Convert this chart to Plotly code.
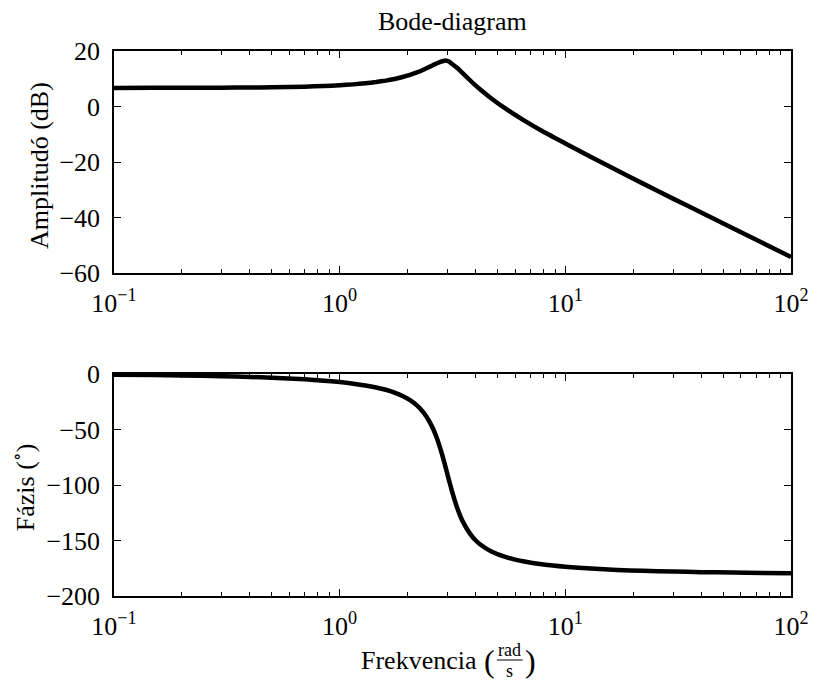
import plotly.graph_objects as go
from plotly.subplots import make_subplots

# Frequency points (rad/s)
omega = [0.1, 0.15, 0.2, 0.3, 0.4, 0.5, 0.7, 0.85, 1.0, 1.15, 1.3, 1.45, 1.6, 1.75, 1.9,
         2.05, 2.2, 2.35, 2.5, 2.6, 2.7, 2.85, 2.95, 3.05, 3.15, 3.3, 3.4, 3.5, 3.8, 4.0,
         4.2, 4.7, 5.5, 6.5, 8, 10, 13, 17, 22, 30, 40, 55, 75, 100]
# Amplitude (dB)
amplitude_db = [6.7, 6.72, 6.73, 6.77, 6.85, 6.92, 7.15, 7.38, 7.64, 7.97, 8.36, 8.81, 9.33,
                9.93, 10.62, 11.4, 12.28, 13.26, 14.29, 14.96, 15.6, 16.3, 16.6, 16.2,
                15.3, 14.04, 13.08, 12.1, 9.28, 7.6, 6.09, 2.89, -1.07, -4.83, -9.13,
                -13.3, -18.2, -23.1, -27.7, -33.2, -38.2, -43.8, -49.2, -54.2]
# Phase (degrees)
phase_deg = [-0.65, -0.98, -1.3, -1.97, -2.64, -3.34, -4.8, -5.98, -7.27, -8.69, -10.28,
             -12.1, -14.22, -16.73, -19.78, -23.55, -28.34, -34.6, -42.84, -49.8, -58.16,
             -73.2, -84.3, -95.6, -106.0, -119.3, -126.4, -132.3, -144.5, -149.8, -153.6,
             -159.9, -165.2, -168.7, -171.6, -173.6, -175.3, -176.5, -177.3, -178.0,
             -178.5, -178.9, -179.2, -179.4]

amp_ticks = [20, 0, -20, -40, -60]
phase_ticks = [0, -50, -100, -150, -200]
x_major = [0.1, 1, 10, 100]
x_labels = ["10<sup>−1</sup>", "10<sup>0</sup>", "10<sup>1</sup>", "10<sup>2</sup>"]
x_minor = [m * d for d in (0.1, 1, 10) for m in range(2, 10)]

W, H = 821, 685
L, R, T, B = 114, 21, 51, 89
PW, PH = W - L - R, H - T - B

def px(x):
    return (x - L) / PW

def py(y):
    return (H - B - y) / PH

FONT = "Liberation Serif, Times New Roman, DejaVu Serif, serif"
FS = 26

fig = make_subplots(rows=2, cols=1, vertical_spacing=0.0)
fig.add_trace(go.Scatter(x=omega, y=amplitude_db, mode="lines",
                         line=dict(color="black", width=4.5, shape="spline", smoothing=0.4)),
              row=1, col=1)
fig.add_trace(go.Scatter(x=omega, y=phase_deg, mode="lines",
                         line=dict(color="black", width=4.5, shape="spline", smoothing=0.5)),
              row=2, col=1)

xcommon = dict(type="log", range=[-1, 2], tickvals=x_major, ticktext=x_labels,
               ticks="inside", ticklen=7, tickwidth=1, tickcolor="black",
               showline=True, linecolor="black", linewidth=1.5, mirror="allticks",
               showgrid=False, zeroline=False, ticklabelstandoff=6,
               tickfont=dict(family=FONT, size=FS, color="black"),
               minor=dict(tickvals=x_minor, ticks="inside", ticklen=4, tickcolor="black",
                          tickwidth=1, showgrid=False))
ycommon = dict(ticks="inside", ticklen=7, tickwidth=1, tickcolor="black",
               showline=True, linecolor="black", linewidth=1.5, mirror="allticks",
               showgrid=False, zeroline=False, ticklabelstandoff=7,
               tickfont=dict(family=FONT, size=FS, color="black"))

fig.update_xaxes(**xcommon)
fig.update_xaxes(domain=[0, 1])
fig.update_yaxes(**ycommon)

fig.update_layout(
    font=dict(family=FONT, size=FS, color="black"),
    xaxis=dict(anchor="y"),
    yaxis=dict(domain=[py(273), 1], range=[-60, 20], tickvals=amp_ticks),
    xaxis2=dict(anchor="y2"),
    yaxis2=dict(domain=[0, py(374)], range=[-200, 0], tickvals=phase_ticks),
    width=W, height=H,
    margin=dict(l=L, r=R, t=T, b=B),
    showlegend=False,
    plot_bgcolor="white", paper_bgcolor="white",
)

def text_font(size):
    return dict(family=FONT, size=size, color="black")

def label(text, x, y, size=FS, angle=0):
    fig.add_annotation(text=text, x=px(x), y=py(y), xref="paper", yref="paper",
                       xanchor="center", yanchor="middle", textangle=angle,
                       showarrow=False, font=text_font(size))

label("Bode-diagram", 457, 21)
label("Amplitudó (dB)", 38, 165, angle=-90)
label("Fázis (<sup>∘</sup>)", 22, 487, angle=-90)
label("Frekvencia", 423, 660)
label("(", 494, 661, size=32)
label("rad", 515, 650, size=18)
label("s", 515, 671, size=18)
label(")", 536, 661, size=32)
fig.add_shape(type="line", xref="paper", yref="paper", x0=px(502), x1=px(528),
              y0=py(660), y1=py(660), line=dict(color="black", width=1))

fig.write_html("out.html")
